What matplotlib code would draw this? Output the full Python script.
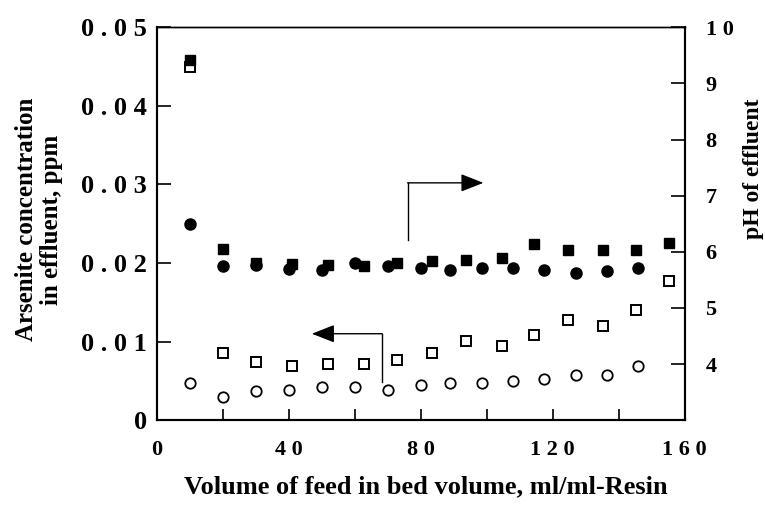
import matplotlib
matplotlib.use("Agg")
import matplotlib.pyplot as plt

# volume of feed (bed volumes) for the two sampling series
x_circ = [10, 20, 30, 40, 50, 60, 70, 80, 89, 98.5, 108, 117.5, 127, 136.5, 146]
x_sq = [10, 20, 30, 41, 52, 62.7, 72.8, 83.5, 93.7, 104.5, 114.4, 124.5, 135.1, 145.3, 155.3]

# arsenite concentration in effluent, ppm (left axis, open markers)
as_sq = [0.045, 0.0086, 0.0074, 0.0069, 0.0072, 0.0071, 0.0077, 0.0085,
         0.0101, 0.0095, 0.0109, 0.0128, 0.0120, 0.0140, 0.0177]
as_circ = [0.0047, 0.0029, 0.0037, 0.0039, 0.0042, 0.0042, 0.0039, 0.0045,
           0.0047, 0.0047, 0.0050, 0.0052, 0.0057, 0.0058, 0.0069]

# pH of effluent (right axis, filled markers)
ph_sq = [9.41, 6.05, 5.80, 5.78, 5.77, 5.75, 5.80, 5.83,
         5.86, 5.89, 6.13, 6.04, 6.04, 6.04, 6.15]
ph_circ = [6.50, 5.75, 5.77, 5.70, 5.68, 5.80, 5.75, 5.71,
           5.68, 5.71, 5.71, 5.68, 5.63, 5.65, 5.71]

x_ticks = [0, 20, 40, 60, 80, 100, 120, 140, 160]
x_ticklabels = ["0", "", "4 0", "", "8 0", "", "1 2 0", "", "1 6 0"]
left_ticks = [0, 0.01, 0.02, 0.03, 0.04, 0.05]
left_ticklabels = ["0", "0 . 0 1", "0 . 0 2", "0 . 0 3", "0 . 0 4", "0 . 0 5"]
right_ticks = [4, 5, 6, 7, 8, 9, 10]
right_ticklabels = ["4", "5", "6", "7", "8", "9", "1 0"]

plt.rcParams['font.family'] = ['Liberation Serif', 'DejaVu Serif']
plt.rcParams['font.weight'] = 'bold'

fig = plt.figure(figsize=(7.65, 5.05), dpi=100)
ax = fig.add_axes([0.205, 0.168, 0.69, 0.778])
ax2 = ax.twinx()

# open markers: arsenite (left axis)
ax.plot(x_sq, as_sq, 's', ms=7.5, mfc='white', mec='black', mew=1.4, zorder=3)
ax.plot(x_circ, as_circ, 'o', ms=7.5, mfc='white', mec='black', mew=1.3, zorder=3)
# filled markers: pH (right axis)
ax2.plot(x_sq, ph_sq, 's', ms=7.5, color='black', zorder=4)
ax2.plot(x_circ, ph_circ, 'o', ms=8, color='black', zorder=4)

ax.set_xlim(0, 160)
ax.set_ylim(0, 0.05)
ax2.set_ylim(3, 10)

ax.set_xticks(x_ticks)
ax.set_xticklabels(x_ticklabels, fontsize=16)
ax.set_yticks(left_ticks)
ax.set_yticklabels(left_ticklabels, fontsize=19)
ax2.set_yticks(right_ticks)
ax2.set_yticklabels(right_ticklabels, fontsize=16)

ax.tick_params(axis='x', direction='in', length=8, width=1.2, pad=14, top=False)
ax.tick_params(axis='y', direction='in', length=10, width=1.2, pad=7)
ax2.tick_params(axis='y', direction='in', length=10, width=1.2, pad=15)

for a in (ax, ax2):
    for side in ('left', 'bottom', 'right'):
        a.spines[side].set_linewidth(1.5)
    a.spines['top'].set_linewidth(1.0)

ax.set_xlabel("Volume of feed in bed volume, ml/ml-Resin", fontsize=19,
              fontweight='bold')
ax.xaxis.set_label_coords(0.51, -0.14)
ax.set_ylabel("Arsenite concentration\nin effluent, ppm", fontsize=18,
              fontweight='bold', linespacing=1.1)
ax.yaxis.set_label_coords(-0.178, 0.51)
ax2.set_ylabel("pH of effluent", fontsize=17, fontweight='bold')
ax2.yaxis.set_label_coords(1.11, 0.64)

# bent arrows pointing to the relevant axis
ax.plot([76, 76], [0.0229, 0.0302], color='black', lw=1.0)
ax.annotate("", xy=(99, 0.0302), xytext=(76, 0.0302),
            arrowprops=dict(arrowstyle='-|>,head_length=1.4,head_width=0.55',
                            color='black', lw=1.0, shrinkA=0, shrinkB=0))
ax.plot([68.3, 68.3], [0.0049, 0.0110], color='black', lw=1.0)
ax.annotate("", xy=(47, 0.0110), xytext=(68.3, 0.0110),
            arrowprops=dict(arrowstyle='-|>,head_length=1.4,head_width=0.55',
                            color='black', lw=1.0, shrinkA=0, shrinkB=0))

fig.savefig("out.png", dpi=100)
